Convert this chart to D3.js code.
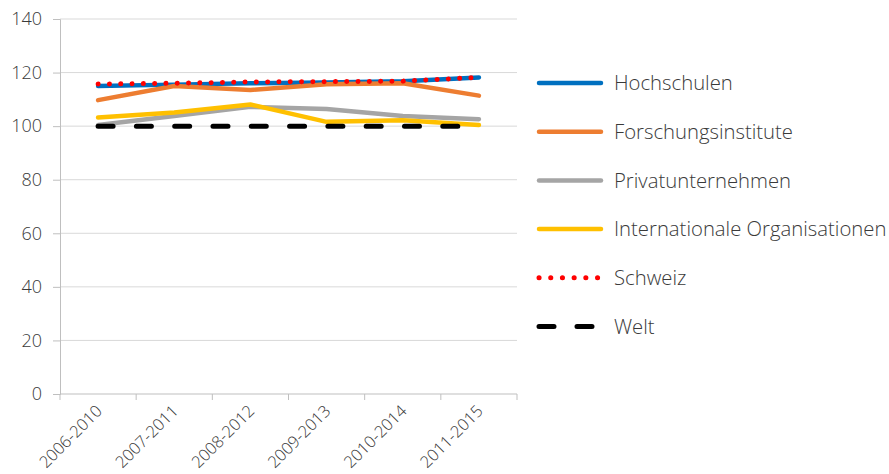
<!DOCTYPE html>
<html>
<head>
<meta charset="utf-8">
<script src="https://cdn.jsdelivr.net/npm/d3@7"></script>
<style>
  html, body { margin: 0; padding: 0; background: #fff; }
  svg text { font-family: "Open Sans", "Noto Sans", sans-serif; font-weight: 300; fill: #3a3a3a; }
</style>
</head>
<body>
<svg id="chart" width="889" height="474"></svg>
<script>
// Periods (5-year windows)
const periods = ["2006-2010", "2007-2011", "2008-2012", "2009-2013", "2010-2014", "2011-2015"];

// Index values per sector (Welt = 100)
const hochschulen        = [115.0, 115.5, 116.0, 116.3, 116.8, 118.2];
const forschungsinst     = [109.7, 115.0, 113.5, 115.6, 116.0, 111.4];
const privatunternehmen  = [100.4, 103.8, 107.2, 106.4, 103.8, 102.6];
const internationaleOrg  = [103.2, 105.1, 108.1, 101.6, 102.2, 100.4];
const schweiz            = [115.7, 116.0, 116.5, 116.6, 116.8, 118.2];
const welt               = [100, 100, 100, 100, 100, 100];

const yTicks = [0, 20, 40, 60, 80, 100, 120, 140];

const series = [
  { name: "Hochschulen", values: hochschulen, color: "#0070C0", width: 4.5, dash: null },
  { name: "Forschungsinstitute", values: forschungsinst, color: "#ED7D31", width: 4.5, dash: null },
  { name: "Privatunternehmen", values: privatunternehmen, color: "#A5A5A5", width: 4.5, dash: null },
  { name: "Internationale Organisationen", values: internationaleOrg, color: "#FFC000", width: 4.5, dash: null },
  { name: "Schweiz", values: schweiz, color: "#FF0000", width: 5, dash: "0.1 11.2" },
  { name: "Welt", values: welt, color: "#000000", width: 5, dash: "15 23.3" }
];

const svg = d3.select("#chart");
const plot = { left: 60, right: 517, top: 19, bottom: 394 };

const x = d3.scaleBand().domain(periods).range([plot.left, plot.right]);
const y = d3.scaleLinear().domain([0, 140]).range([plot.bottom, plot.top]);

// Horizontal gridlines
svg.append("g")
  .selectAll("line")
  .data(yTicks.filter(d => d > 0))
  .join("line")
  .attr("x1", plot.left).attr("x2", plot.right)
  .attr("y1", d => y(d)).attr("y2", d => y(d))
  .attr("stroke", "#D9D9D9").attr("stroke-width", 1);

// Y axis
const yAxis = svg.append("g")
  .attr("transform", `translate(${plot.left},0)`)
  .call(d3.axisLeft(y).tickValues(yTicks).tickSize(7).tickPadding(11));
yAxis.select(".domain").attr("stroke", "#BFBFBF");
yAxis.selectAll(".tick line").attr("stroke", "#BFBFBF");
yAxis.selectAll(".tick text").attr("font-size", 18).style("fill", "#3a3a3a");

// X axis with ticks on category boundaries
const xAxisG = svg.append("g").attr("transform", `translate(0,${plot.bottom})`);
xAxisG.append("line")
  .attr("x1", plot.left).attr("x2", plot.right)
  .attr("y1", 0).attr("y2", 0)
  .attr("stroke", "#BFBFBF");
const bounds = periods.map(p => x(p)).concat([x(periods[periods.length - 1]) + x.bandwidth()]);
xAxisG.selectAll("line.tk")
  .data(bounds)
  .join("line")
  .attr("class", "tk")
  .attr("x1", d => d).attr("x2", d => d)
  .attr("y1", 0).attr("y2", 6)
  .attr("stroke", "#BFBFBF");
xAxisG.selectAll("text")
  .data(periods)
  .join("text")
  .attr("transform", d => `translate(${x(d) + x.bandwidth() / 2 + 1},${14}) rotate(-45)`)
  .attr("text-anchor", "end")
  .attr("dy", "0.35em")
  .attr("font-size", 16.5)
  .text(d => d);

// Lines
const line = d3.line()
  .x((d, i) => x(periods[i]) + x.bandwidth() / 2)
  .y(d => y(d));

svg.append("g")
  .selectAll("path")
  .data(series)
  .join("path")
  .attr("d", d => line(d.values))
  .attr("fill", "none")
  .attr("stroke", d => d.color)
  .attr("stroke-width", d => d.width)
  .attr("stroke-linecap", "round")
  .attr("stroke-linejoin", "round")
  .attr("stroke-dasharray", d => d.dash);

// Legend
const legend = svg.append("g").attr("transform", "translate(539,83)");
const rows = legend.selectAll("g")
  .data(series)
  .join("g")
  .attr("transform", (d, i) => `translate(0,${i * 48.7})`);
rows.append("line")
  .attr("x1", 0).attr("x2", 62)
  .attr("y1", 0).attr("y2", 0)
  .attr("stroke", d => d.color)
  .attr("stroke-width", d => d.width)
  .attr("stroke-linecap", "round")
  .attr("stroke-dasharray", d => d.dash === "0.1 11.2" ? "0.1 11.6" : d.dash === "15 23.3" ? "15 23" : null);
rows.append("text")
  .attr("x", 75)
  .attr("y", 0)
  .attr("dy", "0.35em")
  .attr("font-size", 20.3)
  .text(d => d.name);
</script>
</body>
</html>
